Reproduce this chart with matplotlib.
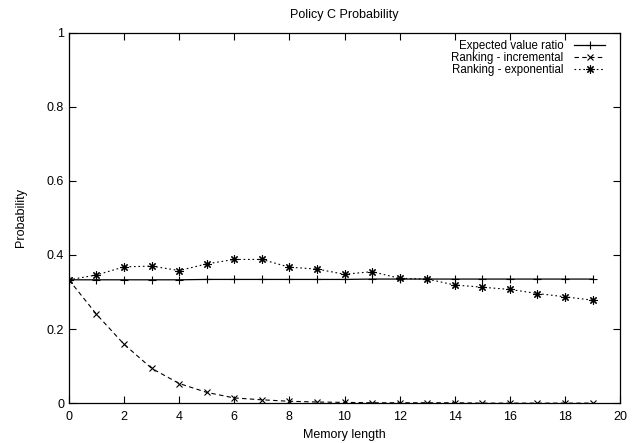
import matplotlib.pyplot as plt

plt.rcParams["font.family"] = ["Liberation Sans", "DejaVu Sans"]

memory = list(range(20))
expected_ratio = [0.333, 0.333, 0.333, 0.333, 0.333, 0.334, 0.334, 0.334, 0.334, 0.334,
                  0.334, 0.335, 0.335, 0.335, 0.335, 0.335, 0.335, 0.335, 0.335, 0.335]
ranking_incr = [0.333, 0.240, 0.159, 0.094, 0.053, 0.029, 0.014, 0.009, 0.005, 0.003,
                0.002, 0.001, 0.001, 0.001, 0.001, 0.0, 0.0, 0.0, 0.0, 0.0]
ranking_exp = [0.333, 0.346, 0.368, 0.370, 0.358, 0.376, 0.388, 0.388, 0.367, 0.362,
               0.348, 0.355, 0.337, 0.335, 0.319, 0.313, 0.307, 0.296, 0.287, 0.278]

xticks = list(range(0, 21, 2))
yticks = [0, 0.2, 0.4, 0.6, 0.8, 1]
ytick_labels = ["0", "0.2", "0.4", "0.6", "0.8", "1"]

fig = plt.figure(figsize=(6.44, 4.43), dpi=100)
ax = fig.add_axes([0.107, 0.090, 0.856, 0.836])

ax.plot(memory, expected_ratio, color="black", lw=0.9, marker="+", ms=6, mew=0.8,
        label="Expected value ratio")
ax.plot(memory, ranking_incr, color="black", lw=0.8, ls=(0, (4, 3)), marker="x", ms=5,
        mew=0.8, label="Ranking - incremental")
ax.plot(memory, ranking_exp, color="black", lw=0.8, ls=(0, (1.5, 2.5)), marker=(8, 2, 0),
        ms=6, mew=0.8, label="Ranking - exponential")

ax.set_xlim(0, 20)
ax.set_ylim(0, 1)
ax.set_xticks(xticks)
ax.set_yticks(yticks)
ax.set_yticklabels(ytick_labels)
ax.tick_params(direction="in", top=True, right=True, length=5, width=0.8, labelsize=9)
ax.tick_params(axis="x", pad=6)
for s in ax.spines.values():
    s.set_linewidth(0.9)

ax.set_xlabel("Memory length", fontsize=9, labelpad=4)
ax.set_ylabel("Probability", fontsize=9, labelpad=14)
ax.set_title("Policy C Probability", fontsize=9, pad=11)

ax.legend(loc="upper right", bbox_to_anchor=(0.973, 0.98), frameon=False, markerfirst=False,
          fontsize=8.3, handlelength=2.7, handletextpad=0.95, labelspacing=0.0,
          borderaxespad=0, borderpad=0)

fig.savefig("out.png", dpi=100)
